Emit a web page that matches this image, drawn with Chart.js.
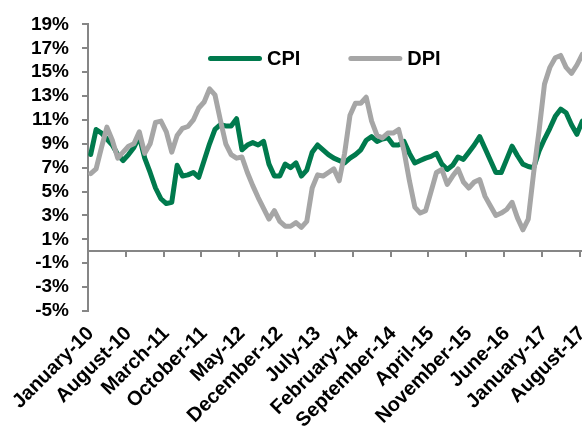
<!DOCTYPE html>
<html>
<head>
<meta charset="utf-8">
<script src="https://cdn.jsdelivr.net/npm/chart.js@4.4.0/dist/chart.umd.min.js"></script>
<style>
  html,body{margin:0;padding:0;background:#fff;overflow:hidden;}
  #wrap{width:585px;height:436px;}
</style>
</head>
<body>
<div id="wrap"><canvas id="chart" width="585" height="436"></canvas></div>
<script>
/* ===== Dados ===== */
const months = [
  'January-10','February-10','March-10','April-10','May-10','June-10','July-10','August-10','September-10','October-10','November-10','December-10',
  'January-11','February-11','March-11','April-11','May-11','June-11','July-11','August-11','September-11','October-11','November-11','December-11',
  'January-12','February-12','March-12','April-12','May-12','June-12','July-12','August-12','September-12','October-12','November-12','December-12',
  'January-13','February-13','March-13','April-13','May-13','June-13','July-13','August-13','September-13','October-13','November-13','December-13',
  'January-14','February-14','March-14','April-14','May-14','June-14','July-14','August-14','September-14','October-14','November-14','December-14',
  'January-15','February-15','March-15','April-15','May-15','June-15','July-15','August-15','September-15','October-15','November-15','December-15',
  'January-16','February-16','March-16','April-16','May-16','June-16','July-16','August-16','September-16','October-16','November-16','December-16',
  'January-17','February-17','March-17','April-17','May-17','June-17','July-17','August-17'
];

const cpi = [
  8.1,10.2,9.9,9.4,8.9,8.1,7.6,8.1,8.7,9.6,7.8,6.6,
  5.3,4.4,4.0,4.1,7.2,6.3,6.4,6.6,6.2,7.6,9.0,10.2,
  10.6,10.5,10.5,11.1,8.5,8.9,9.1,8.9,9.2,7.3,6.3,6.3,
  7.3,7.0,7.4,6.3,6.8,8.3,8.9,8.5,8.1,7.8,7.6,7.4,
  7.8,8.1,8.5,9.3,9.6,9.2,9.4,9.5,8.9,8.9,9.2,8.2,
  7.4,7.6,7.8,7.95,8.2,7.3,6.85,7.2,7.9,7.7,8.3,8.9,
  9.6,8.6,7.6,6.6,6.6,7.7,8.8,8.0,7.3,7.1,7.0,8.4,
  9.4,10.3,11.3,11.9,11.6,10.6,9.8,10.9
];

const dpi = [
  6.5,6.9,8.7,10.4,9.3,7.8,8.3,8.8,9.0,10.0,8.2,9.0,
  10.8,10.9,10.0,8.3,9.7,10.3,10.45,11.0,12.0,12.5,13.6,13.1,
  11.0,9.0,8.1,7.8,7.9,6.6,5.5,4.5,3.6,2.7,3.4,2.5,
  2.1,2.1,2.4,2.0,2.5,5.3,6.4,6.3,6.6,6.9,5.9,8.2,
  11.4,12.4,12.4,12.9,10.9,9.7,9.5,9.9,9.9,10.2,8.4,5.9,
  3.7,3.2,3.4,5.0,6.6,6.85,5.6,6.3,6.9,5.8,5.3,5.8,
  6.0,4.6,3.8,3.0,3.2,3.5,4.1,2.8,1.8,2.7,6.6,10.1,
  14.0,15.4,16.2,16.4,15.4,14.9,15.6,16.5
];

const Y_MIN = -5, Y_MAX = 19, Y_STEP = 2;
const LABEL_STEP = 7;

/* ===== Estilo ===== */
const GREEN = '#007A4D';
const GRAY  = '#A6A6A6';
const AXIS  = '#868686';
const FONT  = 'Liberation Sans, Arial, sans-serif';

// legenda desenhada à mão, dentro da área do gráfico
const lineLegend = {
  id:'lineLegend',
  afterDraw(chart){
    const {ctx, chartArea} = chart;
    ctx.save();
    ctx.font = 'bold 20px ' + FONT;
    ctx.textBaseline = 'middle';
    let x = 208;
    const y = chartArea.top + 34;
    chart.data.datasets.forEach(ds=>{
      ctx.strokeStyle = ds.borderColor;
      ctx.lineWidth = 5;
      ctx.lineCap = 'round';
      ctx.beginPath();
      ctx.moveTo(x + 2.5, y);
      ctx.lineTo(x + 51.5, y);
      ctx.stroke();
      ctx.fillStyle = '#000';
      ctx.fillText(ds.label, x + 59, y + 1);
      x += 59 + ctx.measureText(ds.label).width + 48;
    });
    ctx.restore();
  }
};

new Chart(document.getElementById('chart').getContext('2d'), {
  type:'line',
  data:{
    labels: months,
    datasets:[
      { label:'CPI', data:cpi, borderColor:GREEN, backgroundColor:GREEN, order:1 },
      { label:'DPI', data:dpi, borderColor:GRAY,  backgroundColor:GRAY,  order:0 }
    ]
  },
  options:{
    responsive:false,
    animation:false,
    layout:{ padding:{ top:22, left:0, right:0, bottom:0 } },
    elements:{
      line:{ borderWidth:5, tension:0, borderJoinStyle:'round', borderCapStyle:'round', fill:false },
      point:{ radius:0 }
    },
    plugins:{
      tooltip:{ enabled:false },
      legend:{ display:false }
    },
    scales:{
      x:{
        type:'category',
        position:{ y:0 },
        offset:true,
        grid:{
          offset:true, drawOnChartArea:false, drawTicks:true, tickLength:5, lineWidth:2,
          color:(ctx)=> (ctx.index>0 && ctx.index%LABEL_STEP===0) ? AXIS : 'rgba(0,0,0,0)'
        },
        border:{ display:true, color:AXIS, width:2 },
        ticks:{ display:false, autoSkip:false },
        afterFit(s){ s.height = 0; s.paddingLeft = 0; s.paddingRight = 0; }
      },
      x2:{
        type:'category',
        axis:'x',
        position:'bottom',
        offset:true,
        grid:{ display:false },
        border:{ display:false },
        ticks:{
          autoSkip:false, maxRotation:45, minRotation:45, padding:3,
          color:'#000', font:{ family:FONT, size:20, weight:'bold' },
          callback(v, i){ return i % LABEL_STEP === 0 ? this.getLabelForValue(v) : ''; }
        },
        afterFit(s){ s.height = 125; s.paddingLeft = 0; s.paddingRight = 0; }
      },
      y:{
        min:Y_MIN, max:Y_MAX,
        grid:{ drawOnChartArea:false, drawTicks:true, tickLength:6, color:AXIS, lineWidth:2 },
        border:{ display:true, color:AXIS, width:2 },
        ticks:{
          stepSize:Y_STEP, autoSkip:false, padding:13, color:'#000',
          font:{ family:FONT, size:19, weight:'bold' },
          callback:(v)=> v + '%'
        },
        afterFit(s){ s.width = 88; }
      }
    }
  },
  plugins:[lineLegend]
});
</script>
</body>
</html>
